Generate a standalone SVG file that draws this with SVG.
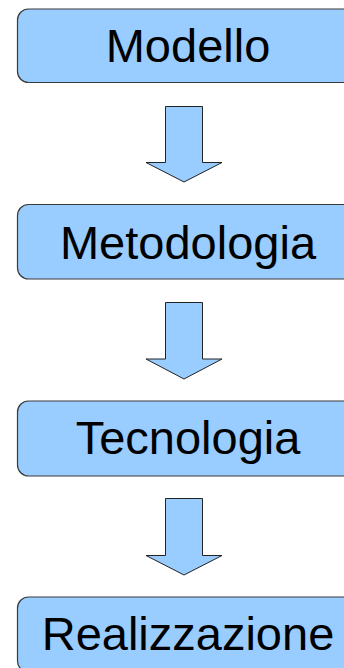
<svg xmlns="http://www.w3.org/2000/svg" width="344" height="668" viewBox="0 0 344 668">
<style>
.box{fill:#99ccff;stroke:#3a3a3a;stroke-width:1.2}
.lbl{font-family:"Liberation Sans",Arial,sans-serif;font-size:47px;fill:#000;text-anchor:middle}
.arr{fill:#99ccff;stroke:#222;stroke-width:1}
</style>
<rect width="344" height="668" fill="#fff"/>
<g id="node-modello"><rect class="box" x="17.5" y="9" width="341" height="73.5" rx="11"/><text class="lbl" x="188" y="62">Modello</text></g>
<g id="node-metodologia"><rect class="box" x="17.5" y="204.5" width="341" height="74.5" rx="11"/><text class="lbl" x="188" y="259">Metodologia</text></g>
<g id="node-tecnologia"><rect class="box" x="17.5" y="401" width="341" height="75" rx="11"/><text class="lbl" x="188" y="454">Tecnologia</text></g>
<g id="node-realizzazione"><rect class="box" x="17.5" y="597" width="341" height="75" rx="11"/><text class="lbl" x="188" y="650">Realizzazione</text></g>
<g id="connectors">
<polygon class="arr" points="165.5,106.5 202.5,106.5 202.5,162.5 222,162.5 184,182 146,162.5 165.5,162.5"/>
<polygon class="arr" points="165.5,302.5 202.5,302.5 202.5,359 222,359 184,379 146,359 165.5,359"/>
<polygon class="arr" points="165.5,498.5 202.5,498.5 202.5,555.5 222,555.5 184,575 146,555.5 165.5,555.5"/>
</g>
</svg>
